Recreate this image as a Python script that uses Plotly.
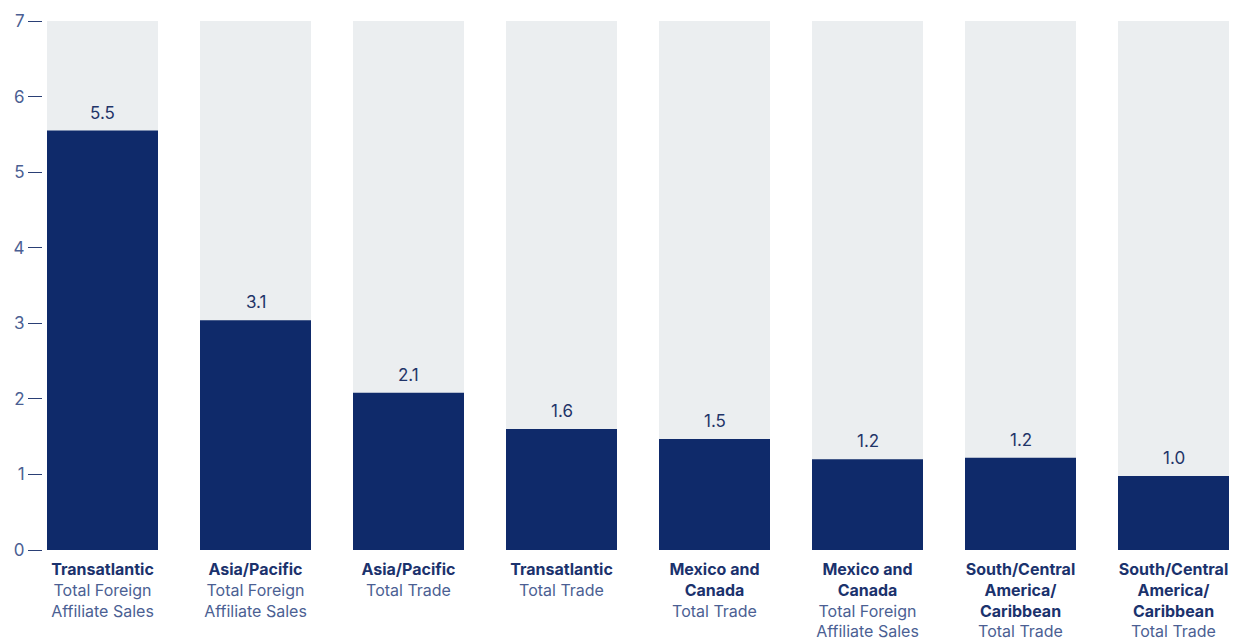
import plotly.graph_objects as go

regions = ["Transatlantic", "Asia/Pacific", "Asia/Pacific", "Transatlantic",
           "Mexico and<br>Canada", "Mexico and<br>Canada",
           "South/Central<br>America/<br>Caribbean", "South/Central<br>America/<br>Caribbean"]
measures = ["Total Foreign<br>Affiliate Sales", "Total Foreign<br>Affiliate Sales", "Total Trade",
            "Total Trade", "Total Trade", "Total Foreign<br>Affiliate Sales", "Total Trade", "Total Trade"]
values = [5.55, 3.04, 2.08, 1.60, 1.47, 1.20, 1.22, 0.98]
value_labels = ["5.5", "3.1", "2.1", "1.6", "1.5", "1.2", "1.2", "1.0"]
y_max = 7

NAVY = "#0f2a6a"
BOLD_C = "#1b326d"
REG_C = "#4b5f93"
GRAY = "#ebeef0"
FONT = "Inter, Lato, sans-serif"

ids = list(range(len(values)))
ticktext = [f"<b><span style='color:{BOLD_C}'>{r}</span></b><br><span style='color:{REG_C}'>{m}</span>"
            for r, m in zip(regions, measures)]

fig = go.Figure()
fig.add_trace(go.Bar(x=ids, y=[y_max] * len(ids), marker=dict(color=GRAY, line=dict(width=0)),
                     width=0.7255, hoverinfo="skip"))
fig.add_trace(go.Bar(x=ids, y=values, marker=dict(color=NAVY, line=dict(width=0)), width=0.7255))

for i, (v, lab) in enumerate(zip(values, value_labels)):
    fig.add_annotation(x=i, y=v, text=lab, showarrow=False, yanchor="bottom", yshift=6,
                       font=dict(family=FONT, size=17, color="#1f3468"))

fig.update_layout(
    width=1236, height=639,
    margin=dict(l=0, r=7, t=21, b=89),
    paper_bgcolor="white", plot_bgcolor="white",
    barmode="overlay", showlegend=False,
    font=dict(family=FONT, size=16, color=REG_C),
    xaxis=dict(domain=[47 / 1229, 1], range=[-0.36275, 7.36275], tickmode="array",
               tickvals=ids, ticktext=ticktext, showgrid=False, zeroline=False,
               showline=False, ticks="", ticklabelstandoff=8, automargin=False,
               tickfont=dict(family=FONT, size=16)),
    yaxis=dict(range=[0, y_max], dtick=1, anchor="free", position=42 / 1229,
               ticks="outside", ticklen=14, tickwidth=1.3, tickcolor="#2a3f75",
               showgrid=False, zeroline=False, showline=False, automargin=False,
               tickfont=dict(family=FONT, size=17, color=REG_C)),
)

fig.write_html("out.html")
